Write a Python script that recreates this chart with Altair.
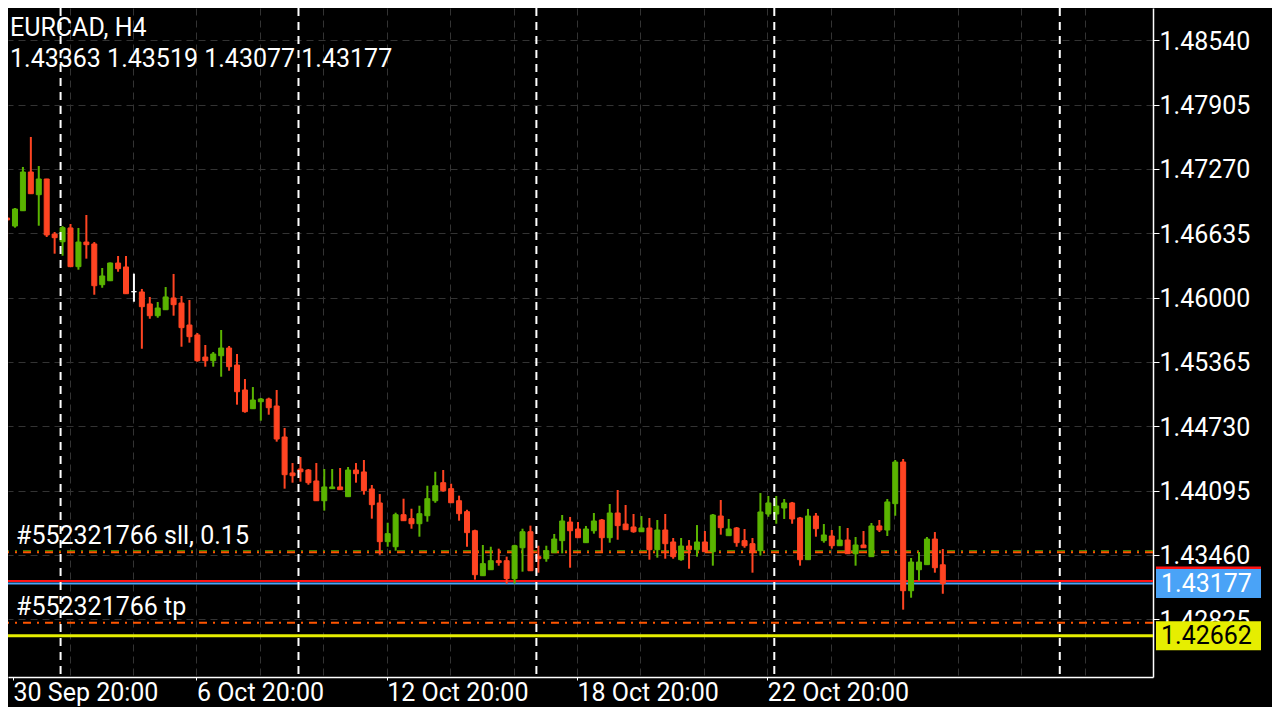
import altair as alt
import pandas as pd

# ---------------- data ----------------
symbol = "EURCAD"
timeframe = "H4"

opens = [1.46785, 1.46706, 1.46857, 1.47239, 1.47015, 1.47170, 1.46627, 1.46551, 1.46687, 1.46305,
         1.46548, 1.46529, 1.46127, 1.46166, 1.46341, 1.46302, 1.46058, 1.46055, 1.45937, 1.45821,
         1.45880, 1.45996, 1.45946, 1.45729, 1.45631, 1.45413, 1.45377, 1.45426, 1.45502, 1.45334,
         1.45088, 1.44903, 1.44972, 1.44999, 1.44930, 1.44624, 1.44269, 1.44308, 1.44298, 1.44190,
         1.43995, 1.44114, 1.44131, 1.44035, 1.44298, 1.44279, 1.44111, 1.43973, 1.43591, 1.43541,
         1.43857, 1.43818, 1.43768, 1.43847, 1.43995, 1.44173, 1.44114, 1.43995, 1.43887, 1.43699,
         1.43255, 1.43314, 1.43403, 1.43403, 1.43226, 1.43531, 1.43689, 1.43443, 1.43423, 1.43482,
         1.43601, 1.43785, 1.43716, 1.43581, 1.43699, 1.43805, 1.43630, 1.43874, 1.43765, 1.43736,
         1.43689, 1.43726, 1.43512, 1.43706, 1.43588, 1.43413, 1.43548, 1.43512, 1.43588, 1.43492,
         1.43844, 1.43650, 1.43726, 1.43601, 1.43571, 1.43502, 1.43864, 1.43864, 1.43923, 1.43973,
         1.43825, 1.43413, 1.43844, 1.43601, 1.43647, 1.43551, 1.43607, 1.43472, 1.43558, 1.43443,
         1.43746, 1.43706, 1.43966, 1.44377, 1.43107, 1.43314, 1.43364, 1.43617, 1.43363]
highs = [1.46980, 1.46884, 1.47289, 1.47585, 1.47298, 1.47172, 1.46647, 1.46706, 1.46726, 1.46687,
         1.46815, 1.46548, 1.46292, 1.46346, 1.46410, 1.46410, 1.46236, 1.46085, 1.46006, 1.45956,
         1.46104, 1.46233, 1.46015, 1.45976, 1.45650, 1.45532, 1.45463, 1.45680, 1.45522, 1.45443,
         1.45196, 1.45117, 1.45009, 1.45012, 1.45088, 1.44713, 1.44367, 1.44427, 1.44308, 1.44367,
         1.44308, 1.44308, 1.44318, 1.44328, 1.44367, 1.44397, 1.44150, 1.44061, 1.43778, 1.43877,
         1.44015, 1.43916, 1.43946, 1.44143, 1.44281, 1.44298, 1.44163, 1.44045, 1.43906, 1.43709,
         1.43558, 1.43541, 1.43522, 1.43443, 1.43561, 1.43719, 1.43749, 1.43551, 1.43551, 1.43667,
         1.43854, 1.43835, 1.43785, 1.43746, 1.43874, 1.43815, 1.43963, 1.44101, 1.43953, 1.43864,
         1.43844, 1.43825, 1.43805, 1.43864, 1.43627, 1.43627, 1.43607, 1.43755, 1.43696, 1.43864,
         1.44002, 1.43815, 1.43736, 1.43716, 1.43627, 1.44071, 1.44042, 1.44042, 1.44012, 1.43983,
         1.43835, 1.43914, 1.43874, 1.43765, 1.43706, 1.43746, 1.43726, 1.43637, 1.43696, 1.43775,
         1.43805, 1.44012, 1.44397, 1.44407, 1.43430, 1.43489, 1.43637, 1.43686, 1.43519]
lows = [1.46492, 1.46690, 1.46855, 1.47023, 1.46709, 1.46598, 1.46433, 1.46413, 1.46303, 1.46275,
        1.46384, 1.46028, 1.46097, 1.46163, 1.46255, 1.46036, 1.45959, 1.45495, 1.45791, 1.45801,
        1.45878, 1.45821, 1.45515, 1.45555, 1.45367, 1.45318, 1.45318, 1.45219, 1.45278, 1.44943,
        1.44864, 1.44901, 1.44785, 1.44844, 1.44578, 1.44114, 1.44173, 1.44183, 1.44153, 1.43993,
        1.43897, 1.44112, 1.44102, 1.44033, 1.44173, 1.44055, 1.43818, 1.43462, 1.43541, 1.43502,
        1.43796, 1.43719, 1.43640, 1.43788, 1.43975, 1.44084, 1.43973, 1.43798, 1.43541, 1.43216,
        1.43253, 1.43312, 1.43354, 1.43176, 1.43176, 1.43295, 1.43302, 1.43285, 1.43393, 1.43480,
        1.43476, 1.43334, 1.43628, 1.43579, 1.43670, 1.43492, 1.43581, 1.43610, 1.43707, 1.43679,
        1.43687, 1.43413, 1.43433, 1.43423, 1.43423, 1.43403, 1.43324, 1.43443, 1.43490, 1.43354,
        1.43660, 1.43648, 1.43541, 1.43531, 1.43285, 1.43453, 1.43837, 1.43768, 1.43815, 1.43768,
        1.43354, 1.43411, 1.43640, 1.43581, 1.43522, 1.43549, 1.43470, 1.43354, 1.43529, 1.43441,
        1.43686, 1.43647, 1.43847, 1.42920, 1.43038, 1.43206, 1.43362, 1.43285, 1.43077]
closes = [1.46766, 1.46874, 1.47239, 1.47025, 1.47170, 1.46618, 1.46591, 1.46690, 1.46305, 1.46548,
          1.46522, 1.46117, 1.46213, 1.46341, 1.46285, 1.46038, 1.46058, 1.45910, 1.45821, 1.45897,
          1.46006, 1.45930, 1.45703, 1.45614, 1.45377, 1.45377, 1.45443, 1.45502, 1.45318, 1.45071,
          1.44874, 1.44989, 1.44999, 1.44913, 1.44604, 1.44252, 1.44242, 1.44281, 1.44173, 1.43995,
          1.44131, 1.44131, 1.44104, 1.44298, 1.44262, 1.44094, 1.43956, 1.43591, 1.43670, 1.43857,
          1.43798, 1.43768, 1.43867, 1.44015, 1.44143, 1.44094, 1.43975, 1.43867, 1.43680, 1.43265,
          1.43374, 1.43403, 1.43384, 1.43226, 1.43551, 1.43689, 1.43304, 1.43423, 1.43502, 1.43617,
          1.43795, 1.43699, 1.43630, 1.43716, 1.43795, 1.43630, 1.43874, 1.43749, 1.43709, 1.43689,
          1.43726, 1.43512, 1.43706, 1.43571, 1.43443, 1.43548, 1.43512, 1.43588, 1.43492, 1.43854,
          1.43729, 1.43716, 1.43581, 1.43551, 1.43492, 1.43884, 1.43973, 1.43943, 1.43973, 1.43815,
          1.43413, 1.43844, 1.43719, 1.43657, 1.43551, 1.43607, 1.43472, 1.43558, 1.43531, 1.43746,
          1.43706, 1.43983, 1.44377, 1.43107, 1.43390, 1.43390, 1.43617, 1.43334, 1.43177]

price_ticks = [1.48540, 1.47905, 1.47270, 1.46635, 1.46000, 1.45365, 1.44730, 1.44095, 1.43460, 1.42825]
date_label_bars = [0, 24, 48, 72, 96]
date_labels = ["30 Sep 20:00", "6 Oct 20:00", "12 Oct 20:00", "18 Oct 20:00", "22 Oct 20:00"]
separator_bars = [6.75, 36.75, 66.75, 96.75, 132.75]

order_id = "552321766"
order_volume = "0.15"
sl_price = 1.43486
tp_price = 1.42792
ask_price = 1.43203
bid_price = closes[-1]
alert_price = 1.42662

# ---------------- styling / layout ----------------
FONT = "Roboto"
FS = 25
BULL = "#5ab400"
BEAR = "#ff4422"
GRID = "#333333"
ORANGE = "#ff5500"
BLUE = "#4aa3f7"
RED = "#ff1414"
YELLOW = "#e6ee00"
BOX = "M-1,-0.2762H1V0.2762H-1Z"
PLOT_W, PLOT_H = 1145, 669
X_DOMAIN = [0.75, 143.875]
Y_DOMAIN = [1.422554, 1.488577]

df = pd.DataFrame({"i": list(range(len(opens))), "open": opens, "high": highs,
                   "low": lows, "close": closes})
df["dir"] = ["up" if c > o else ("down" if c < o else "doji") for o, c in zip(opens, closes)]

x_scale = alt.Scale(domain=X_DOMAIN, nice=False, zero=False)
y_scale = alt.Scale(domain=Y_DOMAIN, nice=False, zero=False)
color_scale = alt.Scale(domain=["up", "down", "doji"], range=[BULL, BEAR, "#ffffff"])

# vertical grid every 8 bars; the first date label sits at the left edge of the view
grid_vals = [8 * k - 0.125 for k in range(1, 18)]
label_vals = [max(b - 0.125, X_DOMAIN[0]) for b in date_label_bars]
tick_vals = sorted(set(grid_vals + label_vals))
is_label = f"indexof({label_vals}, datum.value) >= 0"
label_expr = f"{is_label} ? {date_labels}[indexof({label_vals}, datum.value)] : ''"

x_axis = alt.Axis(
    values=tick_vals, title=None, grid=True, gridColor=GRID, gridDash=[7, 5], gridWidth=1,
    gridOpacity={"condition": {"test": f"datum.value < {X_DOMAIN[0] + 0.5}", "value": 0}, "value": 1},
    domainColor="white", domainWidth=1.5, tickColor="white", tickSize=3, tickWidth=1,
    tickOpacity={"condition": {"test": is_label, "value": 1}, "value": 0},
    labelExpr=label_expr, labelAlign="left", labelBaseline="top", labelFont=FONT,
    labelFontSize=FS, labelColor="white", labelPadding=0, labelOverlap=False, labelFlush=False,
)
y_axis = alt.Axis(
    orient="right", values=price_ticks, format=".5f", title=None, grid=True, gridColor=GRID,
    gridDash=[7, 5], gridWidth=1, domainColor="white", domainWidth=1.5, tickColor="white",
    tickSize=6, labelFont=FONT, labelFontSize=FS, labelColor="white", labelPadding=0,
    labelOverlap=False, labelFlush=False, labelOffset=1,
)


def Y(field):
    return alt.Y(field, scale=y_scale, axis=y_axis)


def X(field):
    return alt.X(field, scale=x_scale, axis=x_axis)


orders = pd.DataFrame({"price": [sl_price, tp_price],
                       "label": [f"#{order_id} sll, {order_volume}", f"#{order_id} tp"]})
sl_df = pd.DataFrame({"price": [sl_price]})
ask_df = pd.DataFrame({"price": [ask_price]})
bid_df = pd.DataFrame({"price": [bid_price], "txt": [f"{bid_price:.5f}"]})
alert_df = pd.DataFrame({"price": [alert_price], "txt": [f"{alert_price:.5f}"]})
sep_df = pd.DataFrame({"bar": separator_bars})

sl_green = alt.Chart(sl_df).mark_rule(color=BULL, strokeWidth=1, strokeDash=[8, 6, 2, 6],
                                      yOffset=-1.5).encode(y=Y("price:Q"))
order_lines = alt.Chart(orders).mark_rule(color=ORANGE, strokeWidth=2,
                                          strokeDash=[8, 6, 2, 6]).encode(y=Y("price:Q"))
alert_line = alt.Chart(alert_df).mark_rule(color=YELLOW, strokeWidth=3).encode(y=Y("price:Q"))
ask_line = alt.Chart(ask_df).mark_rule(color=RED, strokeWidth=2).encode(y=Y("price:Q"))
bid_line = alt.Chart(bid_df).mark_rule(color=BLUE, strokeWidth=2).encode(y=Y("price:Q"))

wicks = alt.Chart(df).mark_rule(strokeWidth=2).encode(
    x=X("i:Q"), y=Y("low:Q"), y2="high:Q",
    color=alt.Color("dir:N", scale=color_scale, legend=None))
bodies = alt.Chart(df).mark_bar(width=5, strokeWidth=1).encode(
    x=X("i:Q"), y=Y("open:Q"), y2="close:Q",
    color=alt.Color("dir:N", scale=color_scale, legend=None),
    stroke=alt.Stroke("dir:N", scale=color_scale, legend=None))

separators = alt.Chart(sep_df).mark_rule(color="white", strokeWidth=2,
                                         strokeDash=[8, 6]).encode(x=X("bar:Q"))

box_kw = dict(shape=BOX, size=11025, filled=True, opacity=1, strokeWidth=0)
ask_box = alt.Chart(ask_df).mark_point(color=RED, **box_kw).encode(
    x=alt.value(1200.5), y=Y("price:Q"))
bid_box = alt.Chart(bid_df).mark_point(color=BLUE, **box_kw).encode(
    x=alt.value(1200.5), y=Y("price:Q"))
alert_box = alt.Chart(alert_df).mark_point(color=YELLOW, **box_kw).encode(
    x=alt.value(1200.5), y=Y("price:Q"))

txt_kw = dict(align="left", font=FONT, fontSize=FS)
bid_txt = alt.Chart(bid_df).mark_text(baseline="middle", color="white", **txt_kw).encode(
    x=alt.value(1153), y=Y("price:Q"), text="txt:N")
alert_txt = alt.Chart(alert_df).mark_text(baseline="middle", color="black", **txt_kw).encode(
    x=alt.value(1153), y=Y("price:Q"), text="txt:N")

order_txt = alt.Chart(orders).mark_text(baseline="alphabetic", color="white", dy=-8,
                                        **txt_kw).encode(
    x=alt.value(8), y=Y("price:Q"), text="label:N")

head_df = pd.DataFrame({
    "t": [f"{symbol}, {timeframe}",
          f"{opens[-1]:.5f} {highs[-1]:.5f} {lows[-1]:.5f} {closes[-1]:.5f}"],
    "row": [0, 1]})
head1 = alt.Chart(head_df).transform_filter("datum.row == 0").mark_text(
    baseline="alphabetic", color="white", **txt_kw).encode(
    x=alt.value(2), y=alt.value(27.7), text="t:N")
head2 = alt.Chart(head_df).transform_filter("datum.row == 1").mark_text(
    baseline="alphabetic", color="white", **txt_kw).encode(
    x=alt.value(2), y=alt.value(58.7), text="t:N")

chart = alt.layer(
    sl_green, order_lines, alert_line, ask_line, bid_line,
    wicks, bodies, separators,
    ask_box, bid_box, alert_box, bid_txt, alert_txt, order_txt, head1, head2,
).properties(
    width=PLOT_W, height=PLOT_H,
    autosize=alt.AutoSizeParams(type="none"),
    padding={"left": 0, "top": 0, "right": 119, "bottom": 30},
    background="#000000",
).configure_view(strokeWidth=0)

chart.save("out.html", embed_options={"renderer": "svg", "actions": False})
